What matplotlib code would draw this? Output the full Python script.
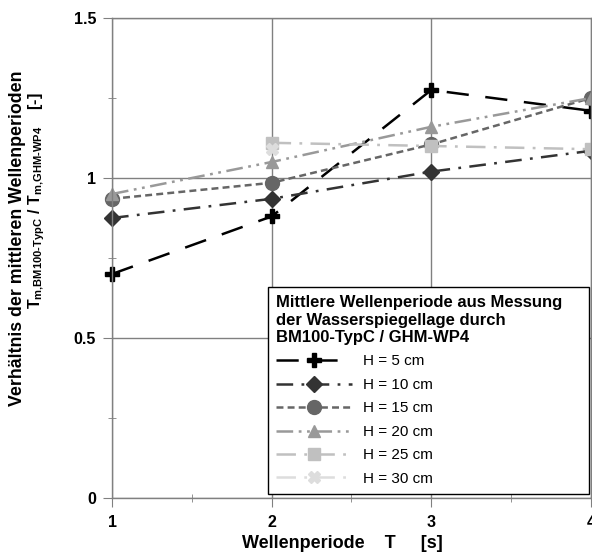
import numpy as np
import matplotlib
matplotlib.use('Agg')
import matplotlib.pyplot as plt

plt.rcParams['font.family'] = ['Liberation Sans', 'DejaVu Sans']
plt.rcParams['mathtext.fontset'] = 'custom'
plt.rcParams['mathtext.rm'] = 'Liberation Sans:bold'
plt.rcParams['mathtext.bf'] = 'Liberation Sans:bold'
plt.rcParams['mathtext.it'] = 'Liberation Sans:bold'
plt.rcParams['lines.scale_dashes'] = False

# Daten
perioden = [1, 2, 3, 4]
labels = ['H = 5 cm', 'H = 10 cm', 'H = 15 cm', 'H = 20 cm', 'H = 25 cm', 'H = 30 cm']
h5 = [0.70, 0.88, 1.275, 1.21]
h10 = [0.875, 0.935, 1.02, 1.085]
h15 = [0.935, 0.985, 1.105, 1.25]
h20 = [0.95, 1.05, 1.16, 1.25]
h25 = [np.nan, 1.11, 1.10, 1.09]
h30 = [np.nan, 1.09, np.nan, np.nan]
reihen = [h5, h10, h15, h20, h25, h30]

farben = ['#000000', '#333333', '#666666', '#999999', '#c0c0c0', '#dddddd']
marker = ['P', 'D', 'o', '^', 's', 'X']
msize = [10, 8, 10, 9, 9, 9]
stile = [(0, (16, 12)), (0, (12, 6, 2, 6)), (0, (5, 3)),
         (0, (12, 4, 2, 4, 2, 4)), (0, (14, 6, 2, 6)), (0, (14, 6, 2, 6))]

fig = plt.figure(figsize=(5.92, 5.52), dpi=100)
ax = fig.add_axes([0.1892, 0.0978, 0.809, 0.8696])

for y, lab, c, m, ms, ls in zip(reihen, labels, farben, marker, msize, stile):
    ax.plot(perioden, y, color=c, marker=m, ms=ms, linestyle=ls, lw=1.8,
            label=lab, markeredgecolor=c, markerfacecolor=c, clip_on=False)

ax.set_xlim(1, 4)
ax.set_ylim(0, 1.5)
ax.set_xticks([1, 2, 3, 4])
ax.set_xticks([1.5, 2.5, 3.5], minor=True)
ax.set_yticks([0, 0.5, 1, 1.5])
ax.set_yticks([0.25, 0.75, 1.25], minor=True)
ax.set_xticklabels(['1', '2', '3', '4'])
ax.set_yticklabels(['0', '0.5', '1', '1.5'])
ax.grid(True, which='major', color='#808080', lw=1)
for s in ax.spines.values():
    s.set_color('#808080')
    s.set_linewidth(1)
ax.tick_params(which='major', direction='out', length=6.5, color='#808080', labelsize=11.5)
ax.tick_params(axis='x', which='major', pad=6)
ax.tick_params(axis='y', which='major', pad=5)
ax.tick_params(which='minor', direction='inout', length=6, color='#808080')
for t in ax.get_xticklabels() + ax.get_yticklabels():
    t.set_fontweight('bold')

# Achsentitel
fig.text(342 / 592, 1 - 543 / 552, 'Wellenperiode    T     [s]', fontsize=13,
         fontweight='bold', ha='center', va='center')
fig.text(18 / 592, 1 - 238 / 552, 'Verhältnis der mittleren Wellenperioden',
         fontsize=12.8, fontweight='bold', rotation=90, ha='center', va='center')
fig.text(37 / 592, 1 - 201 / 552,
         r'$T_{\text{m,BM100-TypC}}$ / $T_{\text{m,GHM-WP4}}$    [-]',
         fontsize=11.5, fontweight='bold', rotation=90, ha='center', va='center')

leg = ax.legend(loc='upper left', bbox_to_anchor=(0.325, 0.0, 0.671, 0.44), mode='expand',
                title='Mittlere Wellenperiode aus Messung\nder Wasserspiegellage durch\nBM100-TypC / GHM-WP4',
                fontsize=11, title_fontsize=12, handlelength=5.0, framealpha=1,
                edgecolor='#000000', fancybox=False, borderpad=0.55, labelspacing=0.62,
                handletextpad=0.7, borderaxespad=0)
leg.get_title().set_fontweight('bold')
leg._legend_box.align = 'left'
leg.get_frame().set_linewidth(1)

fig.savefig('out.png', dpi=100)
